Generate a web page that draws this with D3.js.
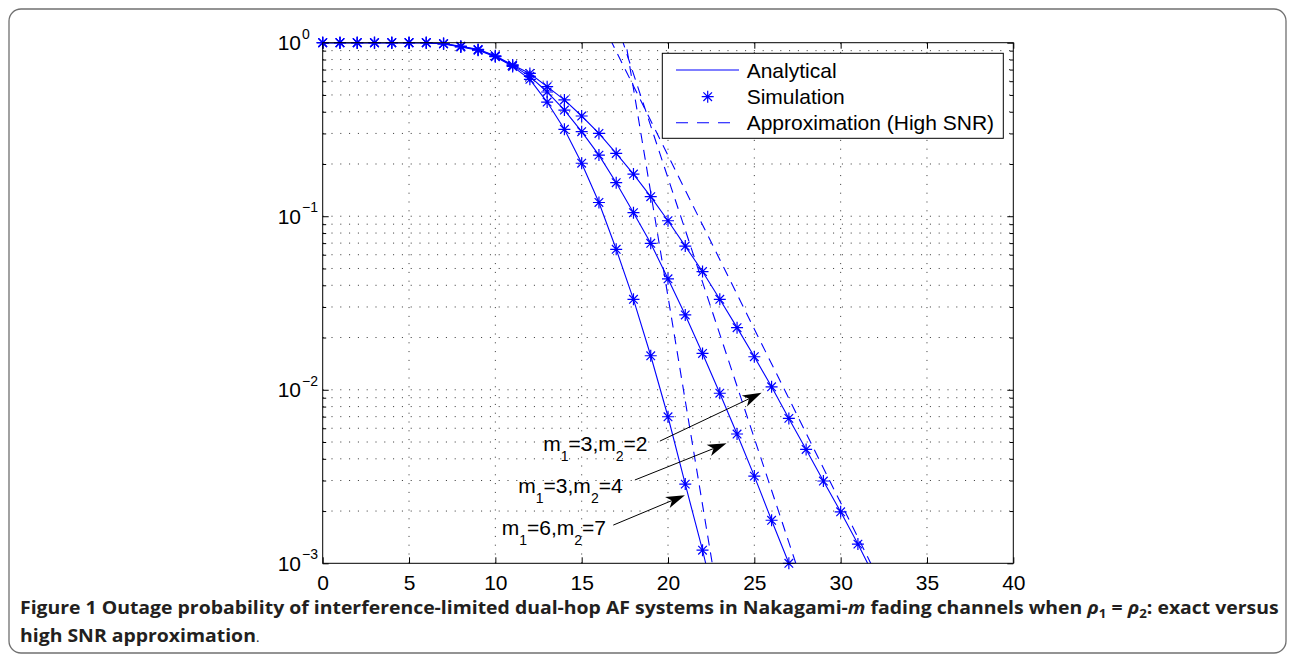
<!DOCTYPE html>
<html>
<head>
<meta charset="utf-8">
<script src="https://cdn.jsdelivr.net/npm/d3@7"></script>
<style>
body{margin:0;background:#fff}
svg{display:block}
text{font-family:"Liberation Sans",Arial,sans-serif}
</style>
</head>
<body>
<svg id="fig" width="1295" height="661"></svg>
<script>
// ticks
const xTicks = [0,5,10,15,20,25,30,35,40]
const yDecades = [1e-3,1e-2,1e-1,1]
const yExps = ["\u22123","\u22122","\u22121","0"]

// analytical curves (SNR in dB)
const snrA = [0,1,2,3,4,5,6,7,8,9,10,11,12,13,14,15,16,17,18,19,20,21,22,23]
const anaA = [1,1,1,1,1,1,1,0.985,0.945,0.905,0.83,0.73,0.615,0.455,0.317,0.202,0.120,0.0645,0.0332,0.0157,0.00699,0.00286,0.00119,0.00046]
const snrB = [0,1,2,3,4,5,6,7,8,9,10,11,12,13,14,15,16,17,18,19,20,21,22,23,24,25,26,27,28]
const anaB = [1,1,1,1,1,1,1,0.987,0.95,0.91,0.835,0.74,0.64,0.52,0.409,0.307,0.225,0.156,0.1048,0.0698,0.0436,0.0270,0.0162,0.00955,0.00556,0.00318,0.00177,0.0010,0.00056]
const snrC = [0,1,2,3,4,5,6,7,8,9,10,11,12,13,14,15,16,17,18,19,20,21,22,23,24,25,26,27,28,29,30,31,32]
const anaC = [1,1,1,1,1,1,1,0.988,0.955,0.915,0.84,0.745,0.665,0.558,0.468,0.378,0.300,0.230,0.175,0.1296,0.0942,0.0673,0.0480,0.0332,0.0228,0.0155,0.0104,0.00684,0.00453,0.00298,0.00198,0.00129,0.00082]

// simulation points
const simA = [1,1,1,1,1,1,1,0.985,0.945,0.905,0.83,0.73,0.615,0.455,0.317,0.202,0.120,0.0645,0.0332,0.0157,0.00699,0.00286,0.00119]
const simB = [1,1,1,1,1,1,1,0.987,0.95,0.91,0.835,0.74,0.64,0.52,0.409,0.307,0.225,0.156,0.1048,0.0698,0.0436,0.0270,0.0162,0.00955,0.00556,0.00318,0.00177,0.0010]
const simC = [1,1,1,1,1,1,1,0.988,0.955,0.915,0.84,0.745,0.665,0.558,0.468,0.378,0.300,0.230,0.175,0.1296,0.0942,0.0673,0.0480,0.0332,0.0228,0.0155,0.0104,0.00684,0.00453,0.00298,0.00198,0.00129]

// high SNR approximation (straight lines)
const apxSnrA = [17.3,20,22.8], apxA = [1.43,0.0344,0.00072]
const apxSnrB = [17,22,27.8],   apxB = [1.32,0.0417,0.00076]
const apxSnrC = [16.2,24,32.2], apxC = [1.29,0.0355,0.00081]

// annotation labels: [m1, m2, text x, text y, arrow start x,y, arrow tip x,y]
const notes = [
  ["3","2",12.77,0.00443,19.53,0.00506,25.42,0.0096],
  ["3","4",11.33,0.00254,18.08,0.00302,23.39,0.00491],
  ["6","7",10.37,0.00145,16.83,0.00166,20.98,0.00247]
]

const svg = d3.select("#fig")
const pL = 322.7, pR = 1013.3, pT = 42.7, pB = 563.3
const blue = "#0000ff"

const x = d3.scaleLinear().domain([0,40]).range([pL,pR])
const y = d3.scaleLog().domain([1e-3,1]).range([pB,pT])

// outer frame
svg.append("rect").attr("x",9).attr("y",9).attr("width",1277).attr("height",644)
  .attr("rx",12).attr("fill","none").attr("stroke","#707070").attr("stroke-width",1.3)

svg.append("rect").attr("x",pL).attr("y",pT).attr("width",pR-pL).attr("height",pB-pT).attr("fill","#fff")

// dotted grid
const grid = svg.append("g").attr("stroke","#333").attr("stroke-width",1).attr("stroke-dasharray","1,7.8")
grid.selectAll(".vg").data(xTicks.slice(1,-1)).join("line")
  .attr("x1",d=>x(d)).attr("x2",d=>x(d)).attr("y1",pB).attr("y2",pT)
const yAll = y.ticks()
grid.selectAll(".hg").data(yAll.filter(d=>d>1e-3 && d<1)).join("line")
  .attr("x1",pL).attr("x2",pR).attr("y1",d=>y(d)).attr("y2",d=>y(d))

// axes
const fs = 21
const bAx = svg.append("g").attr("transform",`translate(0,${pB})`)
  .call(d3.axisBottom(x).tickValues(xTicks).tickSize(-6).tickPadding(12))
svg.append("g").attr("transform",`translate(0,${pT})`)
  .call(d3.axisTop(x).tickValues(xTicks).tickSize(-6).tickFormat(""))
const minor = yAll.filter(d=>!yDecades.includes(d))
svg.append("g").attr("transform",`translate(${pL},0)`).call(d3.axisLeft(y).tickValues(yDecades).tickSize(-6).tickFormat(""))
svg.append("g").attr("transform",`translate(${pL},0)`).call(d3.axisLeft(y).tickValues(minor).tickSize(-3.5).tickFormat(""))
svg.append("g").attr("transform",`translate(${pR},0)`).call(d3.axisRight(y).tickValues(yDecades).tickSize(-6).tickFormat(""))
svg.append("g").attr("transform",`translate(${pR},0)`).call(d3.axisRight(y).tickValues(minor).tickSize(-3.5).tickFormat(""))
svg.selectAll(".domain").remove()
svg.selectAll(".tick line").attr("stroke","#000")
bAx.selectAll("text").attr("font-size",fs).attr("fill","#000").attr("font-family","Liberation Sans, Arial, sans-serif")

yDecades.forEach((d,i)=>{
  svg.append("text").attr("x",301).attr("y",y(d)+7.5).attr("font-size",fs).attr("text-anchor","end").text("10")
  svg.append("text").attr("x",302).attr("y",y(d)-4).attr("font-size",14).text(yExps[i])
})

// clip
svg.append("clipPath").attr("id","clip").append("rect")
  .attr("x",pL).attr("y",pT).attr("width",pR-pL).attr("height",pB-pT)
const plot = svg.append("g").attr("clip-path","url(#clip)")

const line = d3.line().x(d=>x(d[0])).y(d=>y(d[1]))

// approximation (dashed)
;[[apxSnrA,apxA],[apxSnrB,apxB],[apxSnrC,apxC]].forEach(s=>{
  plot.append("path").datum(d3.zip(s[0],s[1])).attr("d",line)
    .attr("fill","none").attr("stroke",blue).attr("stroke-width",1.1).attr("stroke-dasharray","10,7")
})

// analytical (solid)
;[[snrA,anaA],[snrB,anaB],[snrC,anaC]].forEach(s=>{
  plot.append("path").datum(d3.zip(s[0],s[1])).attr("d",line)
    .attr("fill","none").attr("stroke",blue).attr("stroke-width",1.1)
})

// simulation markers
const star = "M-6,0H6M0,-6V6M-4.3,-4.3L4.3,4.3M-4.3,4.3L4.3,-4.3"
;[[snrA,simA],[snrB,simB],[snrC,simC]].forEach(s=>{
  svg.append("g").selectAll("path").data(d3.zip(s[0].slice(0,s[1].length),s[1])).join("path")
    .attr("transform",d=>`translate(${x(d[0])},${y(d[1])})`)
    .attr("d",star).attr("fill","none").attr("stroke",blue).attr("stroke-width",1.2)
})

// box
svg.append("rect").attr("x",pL).attr("y",pT).attr("width",pR-pL).attr("height",pB-pT)
  .attr("fill","none").attr("stroke","#000").attr("stroke-width",1)

// legend
const lg = svg.append("g")
lg.append("rect").attr("x",662.3).attr("y",53.3).attr("width",341).attr("height",85)
  .attr("fill","#fff").attr("stroke","#000").attr("stroke-width",1)
lg.append("line").attr("x1",676).attr("x2",739).attr("y1",70).attr("y2",70).attr("stroke",blue).attr("stroke-width",1.1)
lg.append("path").attr("transform","translate(707.7,96.7)").attr("d",star).attr("fill","none").attr("stroke",blue).attr("stroke-width",1.2)
lg.append("line").attr("x1",676).attr("x2",739).attr("y1",122.7).attr("y2",122.7).attr("stroke",blue).attr("stroke-width",1.1).attr("stroke-dasharray","12,9")
;["Analytical","Simulation","Approximation (High SNR)"].forEach((t,i)=>{
  lg.append("text").attr("x",746.7).attr("y",77.5+i*26.3).attr("font-size",fs).text(t)
})

// annotations with arrows
notes.forEach(n=>{
  const t = svg.append("text").attr("x",x(n[2])).attr("y",y(n[3])).attr("font-size",fs)
  t.append("tspan").text("m")
  t.append("tspan").attr("font-size",14).attr("dy",9.5).text("1")
  t.append("tspan").attr("dy",-9.5).text("="+n[0]+",m")
  t.append("tspan").attr("font-size",14).attr("dy",9.5).text("2")
  t.append("tspan").attr("dy",-9.5).text("="+n[1])
  const x0 = x(n[4]), y0 = y(n[5]), x1 = x(n[6]), y1 = y(n[7])
  const a = Math.atan2(y1-y0,x1-x0), L = 19, w = 6, nb = 14
  svg.append("line").attr("x1",x0).attr("y1",y0).attr("x2",x1-Math.cos(a)*nb).attr("y2",y1-Math.sin(a)*nb)
    .attr("stroke","#000").attr("stroke-width",1)
  const pt = (d,s)=>[x1-Math.cos(a)*d-Math.sin(a)*s, y1-Math.sin(a)*d+Math.cos(a)*s]
  svg.append("path").attr("d","M"+[[x1,y1],pt(L,w),pt(nb,0),pt(L,-w)].join("L")+"Z").attr("fill","#000")
})

// caption
const cap = svg.append("g").attr("fill","#231f20").attr("font-weight","bold")
const c1 = cap.append("text").attr("x",20).attr("y",614).attr("font-size",17.5).style("font-family","'Open Sans',sans-serif")
c1.append("tspan").text("Figure 1 Outage probability of interference-limited dual-hop AF systems in Nakagami-")
c1.append("tspan").attr("font-style","italic").text("m")
c1.append("tspan").text(" fading channels when ")
c1.append("tspan").attr("font-style","italic").text("\u03c1")
c1.append("tspan").attr("font-size",12).attr("dy",4).text("1")
c1.append("tspan").attr("dy",-4).text(" = ")
c1.append("tspan").attr("font-style","italic").text("\u03c1")
c1.append("tspan").attr("font-size",12).attr("dy",4).text("2")
c1.append("tspan").attr("dy",-4).text(": exact versus")
const w1 = c1.node().getComputedTextLength()
c1.attr("transform",`translate(20,0) scale(${1260/w1},1) translate(-20,0)`)

const c2 = cap.append("text").attr("x",20).attr("y",642).attr("font-size",17.5).style("font-family","'Open Sans',sans-serif")
c2.append("tspan").text("high SNR approximation")
c2.append("tspan").attr("font-weight","normal").attr("font-size",12).text(".")
c2.attr("transform",`translate(20,0) scale(${1260/w1},1) translate(-20,0)`)
</script>
</body>
</html>
